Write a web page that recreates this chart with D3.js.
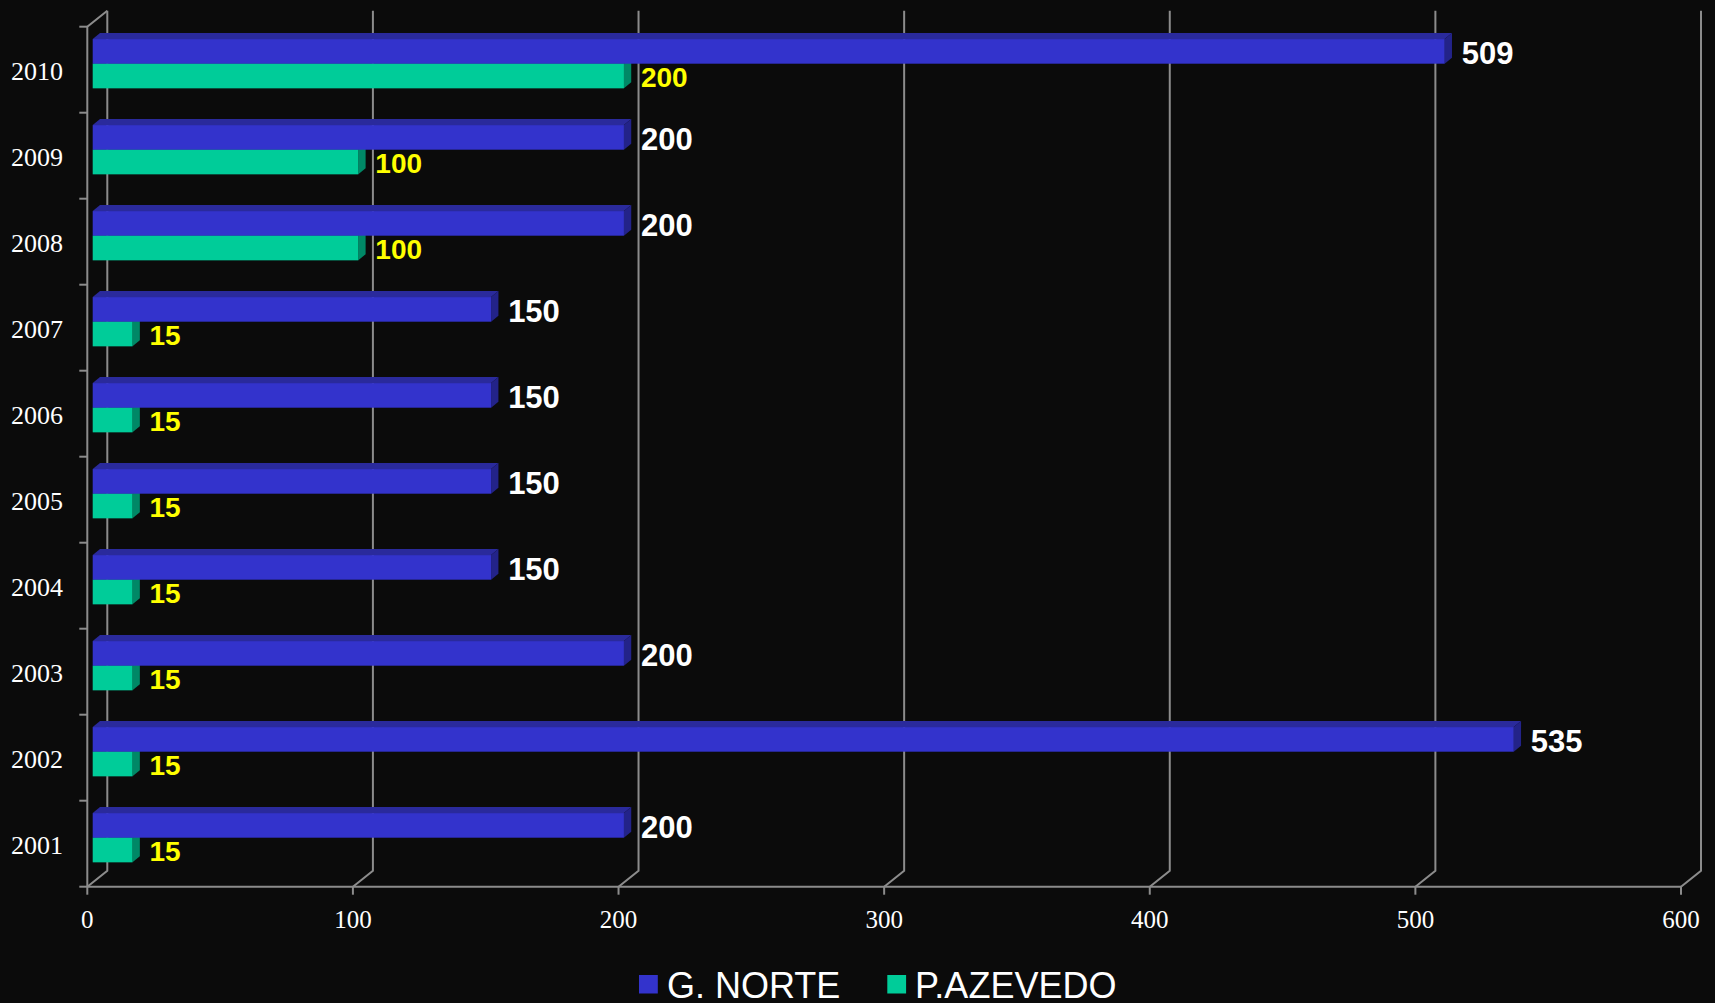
<!DOCTYPE html>
<html><head><meta charset="utf-8">
<script src="https://cdn.jsdelivr.net/npm/d3@7"></script>
<style>html,body{margin:0;padding:0;background:#0b0b0b;overflow:hidden}</style>
</head><body><svg id="c" width="1715" height="1003"></svg>
<script>
const years = ["2001","2002","2003","2004","2005","2006","2007","2008","2009","2010"];
const seriesNames = ["G. NORTE","P.AZEVEDO"];
const gNorte   = [200,535,200,150,150,150,150,200,200,509];
const pAzevedo = [15,15,15,15,15,15,15,100,100,200];
const xTicks = [0,100,200,300,400,500,600];
const colors = {"G. NORTE":{front:"#3333cc",top:"#2a2a9c",side:"#232389"},
                "P.AZEVEDO":{front:"#00cc99",top:"#00a87e",side:"#008866"}};
const labelColors = {"G. NORTE":"#ffffff","P.AZEVEDO":"#ffff00"};

const svg = d3.select("#c");
svg.append("rect").attr("width",1715).attr("height",1003).attr("fill","#0b0b0b");

const x0 = 87.3, x1 = 1681, yTop = 26.7, yBot = 886.7;
const wdx = 20, wdy = -16;       // wall depth
const bdx = 5.4, bdy = -6;       // bar placement shift
const fdx = 7.3, fdy = -6;       // bar thickness
const grid = "#8c8c8c";

const x = d3.scaleLinear().domain([0,600]).range([x0,x1]);
const y = d3.scaleBand().domain(years.slice().reverse()).range([yTop,yBot]).paddingInner(0.427).paddingOuter(0.2135);
const ys = d3.scaleBand().domain(seriesNames).range([0,y.bandwidth()]);
const rows = d3.scaleBand().domain(years.slice().reverse()).range([yTop,yBot]);

// gridlines (back wall + floor diagonals)
const gg = svg.append("g");
xTicks.forEach(t=>{
  const xf = x(t);
  gg.append("path").attr("d",`M${xf},${yBot}L${xf+wdx},${yBot+wdy}L${xf+wdx},${yTop+wdy}`)
    .attr("fill","none").attr("stroke",grid).attr("stroke-width",2);
});
// left wall
gg.append("path").attr("d",`M${x0},${yBot}L${x0},${yTop}L${x0+wdx},${yTop+wdy}`)
  .attr("fill","none").attr("stroke",grid).attr("stroke-width",2);
// floor front edge
gg.append("line").attr("x1",x0).attr("x2",x1).attr("y1",yBot).attr("y2",yBot)
  .attr("stroke",grid).attr("stroke-width",2);
// x ticks
xTicks.forEach(t=>{
  gg.append("line").attr("x1",x(t)).attr("x2",x(t)).attr("y1",yBot).attr("y2",yBot+8)
    .attr("stroke",grid).attr("stroke-width",2);
  svg.append("text").attr("x",x(t)).attr("y",928).attr("text-anchor","middle")
    .attr("font-family","Liberation Serif, Times New Roman, serif").attr("font-size",25)
    .attr("fill","#ffffff").text(t);
});
// y ticks
const yb = [yTop, ...years.slice().reverse().map(d=>rows(d)+rows.bandwidth())];
yb.forEach(v=>{
  gg.append("line").attr("x1",x0-8).attr("x2",x0).attr("y1",v).attr("y2",v)
    .attr("stroke",grid).attr("stroke-width",2);
});
years.forEach(yr=>{
  svg.append("text").attr("x",63).attr("y",rows(yr)+rows.bandwidth()/2+10.5)
    .attr("text-anchor","end").attr("font-family","Liberation Serif, Times New Roman, serif")
    .attr("font-size",26).attr("fill","#ffffff").text(yr);
});

// bars
const data = years.map((yr,i)=>({year:yr, vals:{"G. NORTE":gNorte[i],"P.AZEVEDO":pAzevedo[i]}}));
const bars = svg.append("g");
const order = ["P.AZEVEDO","G. NORTE"];
data.forEach(d=>{
  order.forEach(s=>{
    const v = d.vals[s];
    const xa = x(0)+bdx, xb = x(v)+bdx;
    const ya = y(d.year)+ys(s)+bdy, h = ys.bandwidth(), yb2 = ya+h;
    const c = colors[s];
    bars.append("path").attr("d",`M${xa},${ya}L${xa+fdx},${ya+fdy}L${xb+fdx},${ya+fdy}L${xb},${ya}Z`).attr("fill",c.top);
    bars.append("path").attr("d",`M${xb},${ya}L${xb+fdx},${ya+fdy}L${xb+fdx},${yb2+fdy}L${xb},${yb2}Z`).attr("fill",c.side);
    bars.append("rect").attr("x",xa).attr("y",ya).attr("width",xb-xa).attr("height",h).attr("fill",c.front);
  });
});
// value labels
data.forEach(d=>{
  seriesNames.forEach(s=>{
    const v = d.vals[s];
    const ya = y(d.year)+ys(s)+bdy, h = ys.bandwidth();
    const isBlue = s==="G. NORTE";
    svg.append("text").attr("x",x(v)+bdx+17).attr("y",ya+h/2+(isBlue?13:11))
      .attr("font-family","Liberation Sans, Arial, sans-serif").attr("font-weight","bold")
      .attr("font-size",isBlue?31:28).attr("fill",labelColors[s]).text(v);
  });
});

// legend
const lg = svg.append("g");
const legendPos = [{s:"G. NORTE", sq:639, tx:667},{s:"P.AZEVEDO", sq:887.3, tx:915}];
legendPos.forEach(p=>{
  lg.append("rect").attr("x",p.sq).attr("y",975).attr("width",18.8).attr("height",18.5).attr("fill",colors[p.s].front);
  lg.append("text").attr("x",p.tx).attr("y",997.5)
    .attr("font-family","Liberation Sans, Arial, sans-serif").attr("font-size",36)
    .attr("fill","#ffffff").text(p.s);
});
</script></body></html>
